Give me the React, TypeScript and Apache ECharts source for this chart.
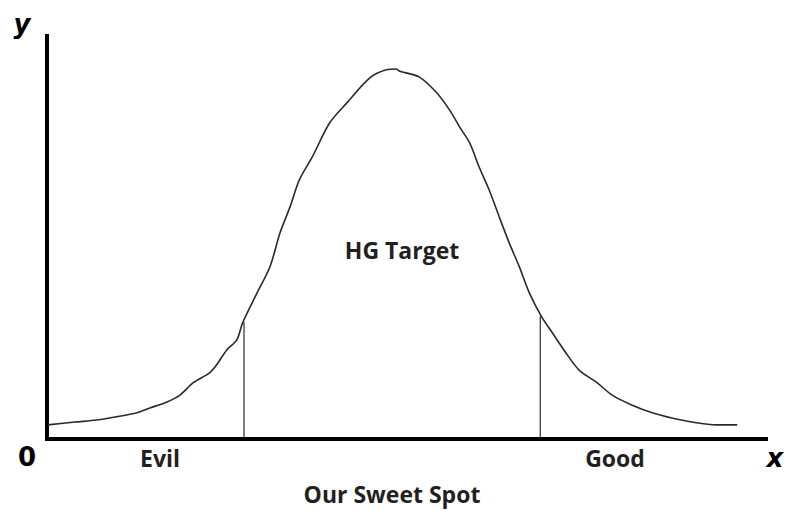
import React, { useEffect, useRef } from "react";
import * as echarts from "echarts";

// Curve (x: 0..100 along the axis, y: 0..100 up the axis)
const curveX = [0.1, 3.9, 6.9, 9.7, 12.5, 14.3, 16.7, 18.5, 20.3, 22.6, 23.6, 25.0, 26.4, 27.2, 29.2, 31.0, 32.4, 33.8, 35.1, 36.9, 39.3, 41.7, 44.9, 47.2, 48.6, 49.0, 51.8, 54.2, 56.0, 57.4, 58.8, 60.1, 61.5, 62.9, 64.3, 65.7, 67.1, 68.8, 70.3, 72.2, 74.0, 76.4, 78.6, 81.4, 84.2, 86.9, 89.7, 93.1, 96.0];
const curveY = [3.5, 4.2, 4.7, 5.5, 6.5, 7.7, 9.2, 10.9, 13.9, 16.4, 18.4, 22.1, 24.6, 28.8, 36.2, 42.7, 51.1, 57.6, 64.3, 70.0, 78.4, 83.4, 89.6, 91.6, 91.8, 91.3, 89.8, 85.9, 81.6, 77.4, 73.4, 67.5, 61.8, 55.1, 48.6, 42.7, 36.2, 30.3, 26.3, 21.3, 17.1, 14.1, 10.9, 8.4, 6.5, 5.2, 4.2, 3.5, 3.5];

// Sweet spot boundaries
const boundX = [27.4, 68.6];
const boundTop = [29.0, 30.5];

const labels = {
  target: "HG Target",
  left: "Evil",
  right: "Good",
  caption: "Our Sweet Spot",
  origin: "0",
  xName: "x",
  yName: "y",
};

export default function App() {
  const ref = useRef<HTMLDivElement>(null);

  useEffect(() => {
    document.body.style.margin = "0";
    if (!ref.current) return;
    const chart = echarts.init(ref.current, undefined, { renderer: "svg" });

    const curve = curveX.map((x, i) => [x, curveY[i]]);
    const boundSeries = boundX.map((x, i) => ({
      type: "line",
      data: [
        [x, 0],
        [x, boundTop[i]],
      ],
      symbol: "none",
      silent: true,
      lineStyle: { color: "#000", width: 1 },
      z: 1,
    }));

    const labelFont = "Open Sans";
    const labelColor = "#231f20";
    const lf = `bold 23px "${labelFont}"`;

    chart.setOption({
      animation: false,
      backgroundColor: "#fff",
      grid: { left: 47, top: 36, right: 22, bottom: 71, containLabel: false },
      xAxis: {
        type: "value",
        min: 0,
        max: 100,
        axisLine: { show: true, lineStyle: { color: "#000", width: 4, cap: "square" } },
        axisTick: { show: false },
        axisLabel: { show: false },
        splitLine: { show: false },
      },
      yAxis: {
        type: "value",
        min: 0,
        max: 100,
        axisLine: { show: true, lineStyle: { color: "#000", width: 4, cap: "square" } },
        axisTick: { show: false },
        axisLabel: { show: false },
        splitLine: { show: false },
      },
      series: [
        {
          type: "line",
          data: curve,
          symbol: "none",
          smooth: 0.3,
          silent: true,
          lineStyle: { color: "#2a2a2a", width: 1.6 },
          z: 2,
        },
        ...boundSeries,
      ],
      graphic: [
        {
          type: "text",
          x: 402,
          y: 250,
          style: { text: labels.target, font: lf, fill: labelColor, align: "center", verticalAlign: "middle" },
        },
        {
          type: "text",
          x: 160,
          y: 458,
          style: { text: labels.left, font: lf, fill: labelColor, align: "center", verticalAlign: "middle" },
        },
        {
          type: "text",
          x: 615,
          y: 458,
          style: { text: labels.right, font: lf, fill: labelColor, align: "center", verticalAlign: "middle" },
        },
        {
          type: "text",
          x: 392,
          y: 494,
          style: { text: labels.caption, font: lf, fill: labelColor, align: "center", verticalAlign: "middle" },
        },
        {
          type: "text",
          x: 27,
          y: 457,
          style: { text: labels.origin, font: `bold 26px "DejaVu Sans"`, fill: "#000", align: "center", verticalAlign: "middle" },
        },
        {
          type: "text",
          x: 22,
          y: 24,
          style: { text: labels.yName, font: `italic bold 26px "DejaVu Sans"`, fill: "#000", align: "center", verticalAlign: "middle" },
        },
        {
          type: "text",
          x: 775,
          y: 458,
          style: { text: labels.xName, font: `italic bold 26px "DejaVu Sans"`, fill: "#000", align: "center", verticalAlign: "middle" },
        },
      ],
    });

    return () => chart.dispose();
  }, []);

  return <div ref={ref} style={{ width: 788, height: 510 }} />;
}
